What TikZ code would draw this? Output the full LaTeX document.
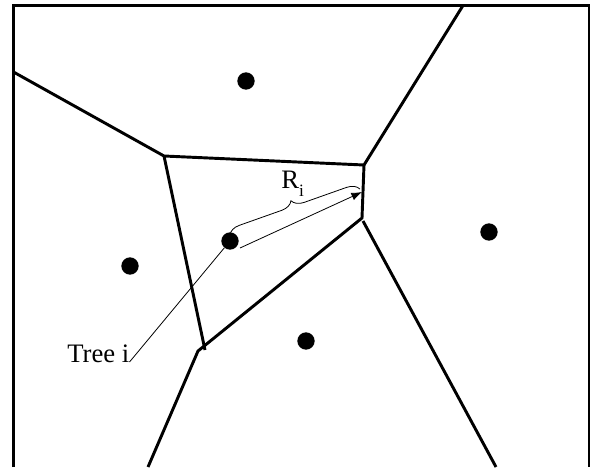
\documentclass[tikz,border=0pt]{standalone}
\usepackage{fontspec}
\setmainfont{Liberation Serif}
\usetikzlibrary{arrows.meta,decorations.pathreplacing}

\tikzset{
  celledge/.style={line width=2.2pt},
  site/.style={circle,fill=black,inner sep=0pt,minimum size=13pt},
  label/.style={inner sep=0pt,font=\fontsize{20}{24}\selectfont},
}

\begin{document}
\begin{tikzpicture}[x=0.75pt,y=0.75pt,yscale=-1,xscale=1]
\useasboundingbox (0,0) rectangle (591,467);

%Frame (open at the bottom)
\draw [celledge] (13.5,467) -- (13.5,5.5) -- (589,5.5) -- (589,467) ;

%Cell corners
\coordinate (nwA) at (164,156) ;
\coordinate (neB) at (364,165) ;
\coordinate (seC) at (362,218) ;
\coordinate (swD) at (205,350) ;
\coordinate (swE) at (198,351) ;

%Voronoi edges
\draw [celledge] (13.5,72) -- (nwA) -- (neB) -- (463,5.5) ;
\draw [celledge] (neB) -- (seC) -- (swE) -- (148,467) ;
\draw [celledge] (nwA) -- (swD) ;
\draw [celledge] (363,221) -- (496,467) ;

%Sites
\node [site] (siteN) at (246,81) {} ;
\node [site] (siteW) at (130,266) {} ;
\node [site] (siteS) at (306,341) {} ;
\node [site] (siteE) at (489,232) {} ;
\node [site] (tree) at (230,241) {} ;

%Radius of tree i
\coordinate (rimR) at (362,192) ;
\draw [-{Latex[length=8pt,width=6pt]}, line width=0.6pt] (240,248) -- (rimR) ;
\draw [line width=0.6pt, decorate, decoration={brace,amplitude=9pt}] (230,235) -- (360,189) ;

% Text Node
\node [label, anchor=base west] (rlabel) at (281,188) {R\raisebox{-0.3em}{\fontsize{13}{15}\selectfont i}} ;
% Text Node
\node [label, anchor=base west] (treelabel) at (67,362) {Tree i} ;
\draw [line width=0.6pt] (tree) -- (treelabel.base east) ;

\end{tikzpicture}
\end{document}
